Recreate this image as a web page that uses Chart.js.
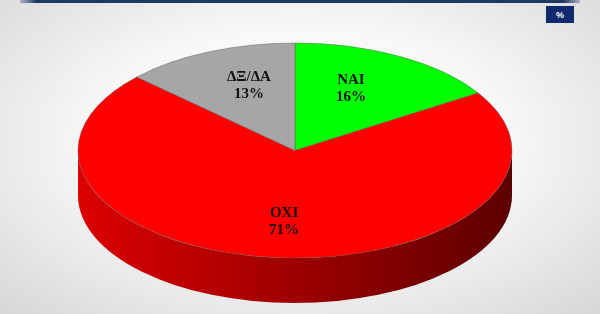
<!DOCTYPE html>
<html><head><meta charset="utf-8">
<script src="https://cdn.jsdelivr.net/npm/chart.js@4"></script>
<style>
html,body{margin:0;padding:0;}
body{width:600px;height:314px;overflow:hidden;position:relative;
 background:radial-gradient(ellipse 75% 80% at 50% 45%, #ffffff 0%, #f8f8f8 45%, #d4d4d4 100%);}
#bar{position:absolute;left:20px;top:0;width:560px;height:3px;
 background:linear-gradient(90deg, rgba(31,56,100,0.25), #1f3864 3%, #1f3864 97%, rgba(31,56,100,0.25));}
#pct{position:absolute;left:546px;top:6px;width:28px;height:17px;background:#0e2a6c;color:#fff;
 font:bold 9px "Liberation Sans",sans-serif;display:flex;align-items:center;justify-content:center;}
#wrap{position:absolute;left:0;top:0;width:600px;height:314px;}
</style></head>
<body>
<div id="bar"></div><div id="pct">%</div>
<div id="wrap"><canvas id="c" width="600" height="314"></canvas></div>
<script>
const categories = ['NAI', 'OXI', 'ΔΞ/ΔΑ'];
const values = [16, 71, 13];
const sliceColors = ['#00ff00', '#ff0000', '#a6a6a6'];

// 3D ellipse layout
const TCX = 295, TCY = 150.5, TRX = 217, TRY = 107.5, DEPTH = 45;
const LFX = 0.535, LFY = 0.66;

function darken(hex, f) {
  const n = parseInt(hex.slice(1), 16);
  const r = Math.round(((n >> 16) & 255) * f), g = Math.round(((n >> 8) & 255) * f), b = Math.round((n & 255) * f);
  return `rgb(${r},${g},${b})`;
}

const pie3d = {
  id: 'pie3d',
  beforeDatasetsDraw(chart) {
    const ctx = chart.ctx;
    const meta = chart.getDatasetMeta(0);
    const a0 = meta.data[0];
    const ncx = a0.x, ncy = a0.y, nr = a0.outerRadius;
    meta.data.forEach((arc, i) => {
      const s = Math.max(arc.startAngle, 0), e = Math.min(arc.endAngle, Math.PI);
      if (e <= s) return;
      ctx.save();
      ctx.beginPath();
      ctx.ellipse(TCX, TCY, TRX, TRY, 0, s, e, false);
      ctx.ellipse(TCX, TCY + DEPTH, TRX, TRY, 0, e, s, true);
      ctx.closePath();
      const g = ctx.createLinearGradient(TCX - TRX, 0, TCX + TRX, 0);
      const c = sliceColors[i];
      g.addColorStop(0, darken(c, 0.86));
      g.addColorStop(0.5, darken(c, 0.62));
      g.addColorStop(1, darken(c, 0.36));
      ctx.fillStyle = g;
      ctx.fill();
      ctx.restore();
    });
    ctx.save();
    ctx.translate(TCX, TCY);
    ctx.scale(TRX / nr, TRY / nr);
    ctx.translate(-ncx, -ncy);
  },
  afterDatasetsDraw(chart) {
    const ctx = chart.ctx;
    ctx.restore();
    const meta = chart.getDatasetMeta(0);
    const total = values.reduce((a, b) => a + b, 0);
    ctx.save();
    ctx.fillStyle = '#111111';
    ctx.font = 'bold 15px "Liberation Serif", serif';
    ctx.textAlign = 'center';
    ctx.textBaseline = 'middle';
    meta.data.forEach((arc, i) => {
      const mid = (arc.startAngle + arc.endAngle) / 2;
      const x = TCX + TRX * LFX * Math.cos(mid);
      const y = TCY + TRY * LFY * Math.sin(mid);
      ctx.fillText(categories[i], x, y - 8.5);
      ctx.fillText(Math.round(values[i] / total * 100) + '%', x, y + 8.5);
    });
    ctx.restore();
  }
};

new Chart(document.getElementById('c'), {
  type: 'pie',
  data: {
    labels: categories,
    datasets: [{
      data: values,
      backgroundColor: sliceColors,
      borderColor: 'rgba(90,90,90,0.7)',
      borderWidth: 0.6,
      clip: false
    }]
  },
  options: {
    responsive: false,
    animation: false,
    devicePixelRatio: 1,
    layout: { padding: 0 },
    plugins: { legend: { display: false }, tooltip: { enabled: false } }
  },
  plugins: [pie3d]
});
</script>
</body></html>
